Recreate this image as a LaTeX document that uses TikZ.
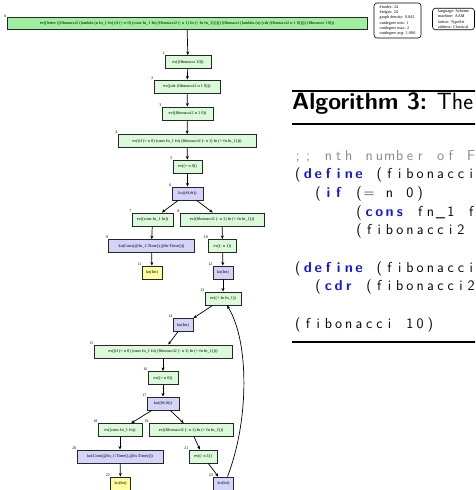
\documentclass[tikz,border=0pt]{standalone}
\usepackage{fontspec}
\setmainfont{Liberation Serif}
\usetikzlibrary{arrows.meta}
\definecolor{evgreen}{RGB}{218,250,218}
\definecolor{rootgreen}{RGB}{160,238,160}
\definecolor{koblue}{RGB}{212,212,250}
\definecolor{koyellow}{RGB}{255,255,160}
\definecolor{kwblue}{RGB}{20,20,235}
\definecolor{cmtgray}{RGB}{136,136,136}
\ExplSyntaxOn
\NewDocumentCommand\fixcols{m}{\str_map_inline:nn {#1} {\makebox[10.2pt]{##1}}}
\ExplSyntaxOff
\newcommand\codefnt{\fontsize{14.4}{17}\selectfont\sffamily}
\newcommand\cseg[4]{\node[codetxt,#3] (c#2-#1) at ({292.5+10.2*#1},{160+18.7*#2}) {\fixcols{#4}};}
\tikzset{
  gnode/.style={draw=black!85, line width=0.9pt, inner sep=0pt, minimum height=13pt,
    font=\fontsize{4.3}{5}\selectfont},
  evn/.style={gnode, fill=evgreen},
  kon/.style={gnode, fill=koblue},
  koy/.style={gnode, fill=koyellow},
  num/.style={font=\fontsize{4}{4.5}\selectfont, inner sep=0pt},
  stat/.style={draw=black, line width=0.6pt, rounded corners=3pt, fill=white, align=left,
    inner sep=1.5pt, font=\fontsize{4.2}{5.2}\selectfont},
  edge/.style={-{Stealth[length=3.5pt,width=3pt]}, line width=0.7pt, black},
  codetxt/.style={anchor=base west, inner sep=0pt, font=\codefnt, text=black},
  kw/.style={text=kwblue, font=\codefnt\bfseries},
  cmt/.style={text=cmtgray},
  rulez/.style={line width=2.6pt, black}
}
\begin{document}
\begin{tikzpicture}[x=1pt,y=-1pt]
\useasboundingbox (0,0) rectangle (475,490);
\fill[white] (0,0) rectangle (475,490);
\clip (0,0) rectangle (475,490);

% graph nodes
\node[gnode, fill=rootgreen, minimum width=360pt, minimum height=12pt,
  label={[num,label distance=0pt]north west:0}] (n0) at (187,23)
  {ev((letrec ((fibonacci2 (lambda (n fn\_1 fn) (if (= n 0) (cons fn\_1 fn) (fibonacci2 (- n 1) fn (+ fn fn\_1)))))) (fibonacci (lambda (n) (cdr (fibonacci2 n 1 0))))) (fibonacci 10)))};
\node[evn, minimum width=46pt, label={[num]north west:1}] (n1) at (188,62) {ev((fibonacci 10))};
\node[evn, minimum width=66pt, label={[num]north west:2}] (n2) at (187,86.5) {ev((cdr (fibonacci2 n 1 0)))};
\node[evn, minimum width=51pt, label={[num]north west:3}] (n3) at (187.5,113.5) {ev((fibonacci2 n 1 0))};
\node[evn, minimum width=138pt, label={[num]north west:4}] (n4) at (187,141) {ev((if (= n 0) (cons fn\_1 fn) (fibonacci2 (- n 1) fn (+ fn fn\_1))))};
\node[evn, minimum width=29pt, label={[num]north west:5}] (n5) at (187.5,166.5) {ev((= n 0))};
\node[kon, minimum width=31pt, label={[num]north west:6}] (n6) at (187.5,193.5) {ko((\#f,\#t))};
\node[evn, minimum width=41pt, label={[num]north west:7}] (n7) at (152.5,219.5) {ev((cons fn\_1 fn))};
\node[evn, minimum width=84pt, label={[num]north west:8}] (n8) at (222,219.5) {ev((fibonacci2 (- n 1) fn (+ fn fn\_1)))};
\node[kon, minimum width=86pt, label={[num]north west:9}] (n9) at (151.5,246) {ko(Cons(@fn\_1-Time(),@fn-Time()))};
\node[evn, minimum width=28pt, label={[num]north west:10}] (n10) at (222.5,246) {ev((- n 1))};
\node[koy, minimum width=20pt, label={[num]north west:11}] (n11) at (152,272.5) {ko(Int)};
\node[kon, minimum width=20pt, label={[num]north west:12}] (n12) at (223,272.5) {ko(Int)};
\node[evn, minimum width=36pt, label={[num]north west:13}] (n13) at (223,298.5) {ev((+ fn fn\_1))};
\node[kon, minimum width=20pt, label={[num]north west:14}] (n14) at (183,325) {ko(Int)};
\node[evn, minimum width=138pt, label={[num]north west:15}] (n15) at (163,351.5) {ev((if (= n 0) (cons fn\_1 fn) (fibonacci2 (- n 1) fn (+ fn fn\_1))))};
\node[evn, minimum width=30pt, label={[num]north west:16}] (n16) at (163,378) {ev((= n 0))};
\node[kon, minimum width=32pt, label={[num]north west:17}] (n17) at (163,403.5) {ko((\#f,\#t))};
\node[evn, minimum width=44pt, label={[num]north west:18}] (n18) at (120,430) {ev((cons fn\_1 fn))};
\node[evn, minimum width=84pt, label={[num]north west:19}] (n19) at (191,430) {ev((fibonacci2 (- n 1) fn (+ fn fn\_1)))};
\node[kon, minimum width=86pt, label={[num]north west:20}] (n20) at (120,456.5) {ko(Cons(@fn\_1-Time(),@fn-Time()))};
\node[evn, minimum width=28pt, label={[num]north west:21}] (n21) at (203,456.5) {ev((- n 1))};
\node[koy, minimum width=20pt, label={[num]north west:22}] (n22) at (120.5,483.5) {ko(Int)};
\node[kon, minimum width=20pt, label={[num]north west:23}] (n23) at (223.5,483.5) {ko(Int)};

% edges
\draw[edge] (n0) -- (n1);
\draw[edge] (n1) -- (n2);
\draw[edge] (n2) -- (n3);
\draw[edge] (n3) -- (n4);
\draw[edge] (n4) -- (n5);
\draw[edge] (n5) -- (n6);
\draw[edge] (n6) -- (n7);
\draw[edge] (n6) -- (n8);
\draw[edge] (n7) -- (n9);
\draw[edge] (n9) -- (n11);
\draw[edge] (n8) -- (n10);
\draw[edge] (n10) -- (n12);
\draw[edge] (n12) -- (n13);
\draw[edge] (n13) -- (n14);
\draw[edge] (n14) -- (n15);
\draw[edge] (n15) -- (n16);
\draw[edge] (n16) -- (n17);
\draw[edge] (n17) -- (n18);
\draw[edge] (n17) -- (n19);
\draw[edge] (n18) -- (n20);
\draw[edge] (n20) -- (n22);
\draw[edge] (n19) -- (n21);
\draw[edge] (n21) -- (n23);
\draw[edge] (n23.60) .. controls +(22,-57) and +(22,35) .. (n13.-60);

% statistics boxes
\node[stat, minimum width=47pt, minimum height=35pt] (stats) at (397.5,20.5)
  {\#nodes: 24\\\#edges: 24\\graph density: 0.043\\outdegree min: 1\\outdegree max: 2\\outdegree avg: 1.000};
\node[stat, minimum width=42pt, minimum height=18pt] (info) at (453.5,19)
  {language: Scheme\\machine: AAM\\lattice: TypeSet\\address: Classical};

% algorithm
\coordinate (rtopL) at (292,91);
\coordinate (rtopR) at (480,91);
\coordinate (rmidL) at (292,124);
\coordinate (rmidR) at (480,124);
\coordinate (rbotL) at (292,342);
\coordinate (rbotR) at (480,342);
\draw[rulez] (rtopL) -- (rtopR);
\draw[line width=1.8pt] (rmidL) -- (rmidR);
\draw[rulez] (rbotL) -- (rbotR);
\node[anchor=base west, inner sep=0pt, font=\fontsize{23.5}{27}\selectfont\sffamily] (title) at (292,109.5)
  {\textbf{Algorithm 3:} The Fibonacci function};

\cseg{0}{0}{cmt}{;; nth number of Fibonacci}
\cseg{0}{1}{}{(}
\cseg{1}{1}{kw}{define}
\cseg{8}{1}{}{(fibonacci2 n fn_1 fn)}
\cseg{2}{2}{}{(}
\cseg{3}{2}{kw}{if}
\cseg{6}{2}{}{(= n 0)}
\cseg{6}{3}{}{(}
\cseg{7}{3}{kw}{cons}
\cseg{12}{3}{}{fn_1 fn)}
\cseg{6}{4}{}{(fibonacci2 (- n 1) fn (+ fn fn_1))))}
\cseg{0}{6}{}{(}
\cseg{1}{6}{kw}{define}
\cseg{8}{6}{}{(fibonacci n)}
\cseg{2}{7}{}{(}
\cseg{3}{7}{kw}{cdr}
\cseg{7}{7}{}{(fibonacci2 n 1 0)))}
\cseg{0}{9}{}{(fibonacci 10)}
\end{tikzpicture}
\end{document}
